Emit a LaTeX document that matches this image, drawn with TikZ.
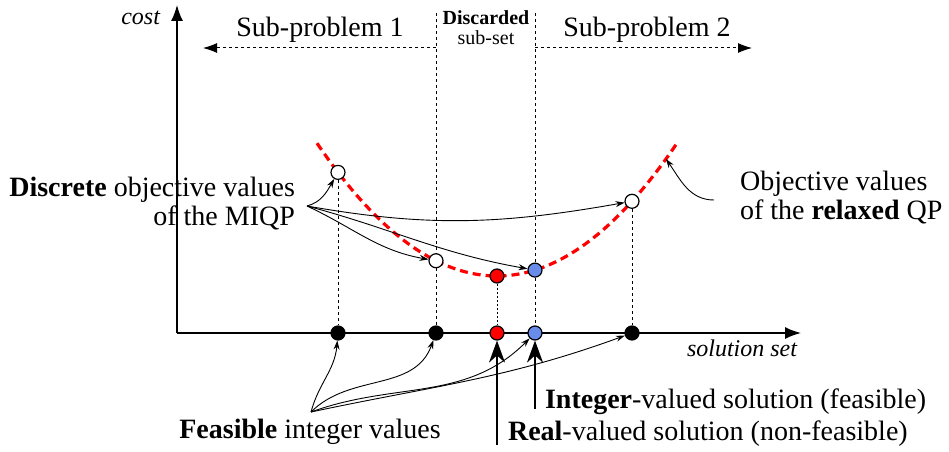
\documentclass[tikz,border=0pt]{standalone}
\usepackage{fontspec}
\setmainfont{Liberation Serif}
\usetikzlibrary{arrows.meta}
\definecolor{solblue}{RGB}{105,140,235}

\begin{document}
\begin{tikzpicture}[x=0.5pt, y=0.5pt,
	every node/.style={font=\fontsize{14}{14.5}\selectfont},
	dot/.style={circle, draw, line width=0.6pt, inner sep=0pt, minimum size=7pt},
	drop/.style={line width=0.5pt, dash pattern=on 1.5pt off 1.5pt},
	thin arrow/.style={-{Stealth[length=4.5pt,width=3pt]}, line width=0.45pt},
	big arrow/.style={-{Stealth[length=11pt,width=8pt]}, line width=1pt}]
	\useasboundingbox (0,0) rectangle (949,451);
	% axes
	\coordinate (O) at (177,118);
	\coordinate (ytip) at (177,446);
	\coordinate (xtip) at (801,118);
	\draw[line width=0.75pt, -{Latex[length=8pt,width=6pt]}] (O) -- (ytip);
	\draw[line width=0.75pt, -{Latex[length=8pt,width=6pt]}] (O) -- (xtip);
	\node[anchor=east, font=\fontsize{12}{14}\selectfont\itshape] (cost) at (167,433) {cost};
	\node[font=\fontsize{12}{14}\selectfont\itshape] (solset) at (742,103) {solution set};
	% relaxed objective
	\draw[red, line width=1.6pt, dash pattern=on 4pt off 2.5pt, domain=317:678, samples=60] plot (\x, {175+(0.06403*(\x-497))^2});
	\foreach \n/\px/\fc/\pc in {c1/338/white/black, c2/436/white/black, cr/497/red/red, cb/535/solblue/solblue, c3/632/white/black} {
		\node[dot, fill=\fc] (\n) at (\px,{175+(0.06403*(\px-497))^2}) {};
		\node[dot, fill=\pc] (p-\n) at (\px,118) {};
	}
	\coordinate (rq) at (666,292);
	% drops to the axis
	\draw[drop] (c1) -- (p-c1);
	\draw[drop] (c3) -- (p-c3);
	\draw[line width=0.4pt, dash pattern=on 1pt off 1pt] (cr) -- (p-cr);
	\coordinate (t2) at (436,438);
	\coordinate (tb) at (535,438);
	\draw[drop] (t2) -- (c2) (c2) -- (p-c2);
	\draw[drop] (tb) -- (cb) (cb) -- (p-cb);
	% sub-problems
	\coordinate (s1) at (436,403);
	\coordinate (s1end) at (203,403);
	\coordinate (s2) at (535,403);
	\coordinate (s2end) at (752,403);
	\draw[drop, -{Latex[length=7pt,width=5pt]}] (s1) -- (s1end);
	\draw[drop, -{Latex[length=7pt,width=5pt]}] (s2) -- (s2end);
	\node (sub1) at (320,421) {Sub-problem 1};
	\node (sub2) at (647,421) {Sub-problem 2};
	\node[font=\fontsize{10}{12}\selectfont\bfseries] (disc) at (486,433) {Discarded};
	\node[font=\fontsize{10}{12}\selectfont] (subset) at (486,413) {sub-set};
	% labels
	\node[align=right, anchor=east] (miqp) at (302,247) {\textbf{Discrete} objective values\\of the MIQP};
	\coordinate (ds) at (307,245);
	\draw[thin arrow] (ds) to[out=15, in=-120] (c1);
	\draw[thin arrow] (ds) to[out=-25, in=170] (c2);
	\draw[thin arrow] (ds) to[out=-15, in=170] (cb);
	\draw[thin arrow] (ds) to[out=-10, in=190] (c3);
	\node[align=left, anchor=west] (qp) at (733,253) {Objective values\\of the \textbf{relaxed} QP};
	\coordinate (rs) at (714,251);
	\draw[thin arrow] (rs) to[out=180, in=-55] (rq);
	\node (feas) at (310,19) {\textbf{Feasible} integer values};
	\coordinate (fs) at (311,39);
	\draw[thin arrow] (fs) to[out=75, in=-95] (p-c1);
	\draw[thin arrow] (fs) to[out=45, in=-110] (p-c2);
	\draw[thin arrow] (fs) to[out=20, in=-135] (p-cb);
	\draw[thin arrow] (fs) to[out=12, in=-160] (p-c3);
	\coordinate (rt) at (497,6);
	\coordinate (bt) at (535,42);
	\draw[big arrow] (rt) -- (p-cr);
	\draw[big arrow] (bt) -- (p-cb);
	\node[anchor=west] (intsol) at (538,49) {\textbf{Integer}-valued solution (feasible)};
	\node[anchor=west] (realsol) at (501,17) {\textbf{Real}-valued solution (non-feasible)};
\end{tikzpicture}
\end{document}
